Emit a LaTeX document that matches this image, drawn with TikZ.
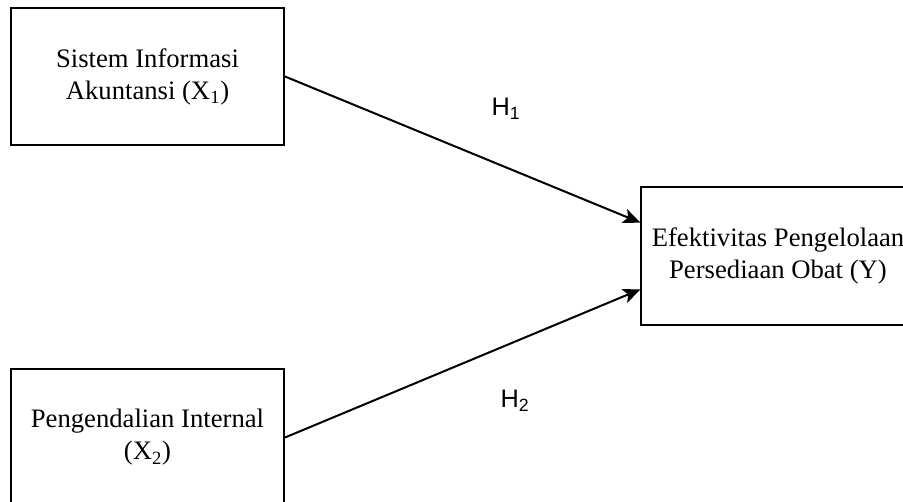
\documentclass[tikz,border=0pt]{standalone}
\usepackage{fontspec}
\setmainfont{Liberation Serif}
\newfontfamily\labelfont{Liberation Sans}
\usetikzlibrary{arrows.meta}

\tikzset{
  varbox/.style={draw, line width=1.3pt, minimum width=205pt, minimum height=103pt,
    align=center, font=\fontsize{20}{24}\selectfont, inner sep=0pt},
  hyp/.style={font=\labelfont\fontsize{19}{22}\selectfont},
  link/.style={line width=1.5pt, -{Stealth[length=13pt, width=11pt, inset=3pt]}}
}

\begin{document}
\begin{tikzpicture}[x=0.75pt, y=-0.75pt]
    \useasboundingbox (0,0) rectangle (903,502);
    % independent variables
    \node[varbox] at (147.5,76.5) (x1) {Sistem Informasi\\Akuntansi (X\textsubscript{1})};
    \node[varbox] at (147.5,437.5) (x2) {Pengendalian Internal\\(X\textsubscript{2})};
    % dependent variable
    \node[varbox] at (778,256) (y) {Efektivitas Pengelolaan\\Persediaan Obat (Y)};
    % hypothesis labels
    \node[hyp] at (506,109) (h1) {H\textsubscript{1}};
    \node[hyp] at (515,401) (h2) {H\textsubscript{2}};

    % hypothesis paths
    \path[link] (x1.east) edge ([yshift=25pt]y.west);
    \path[link] (x2.east) edge ([yshift=-25pt]y.west);
  \end{tikzpicture}
\end{document}
